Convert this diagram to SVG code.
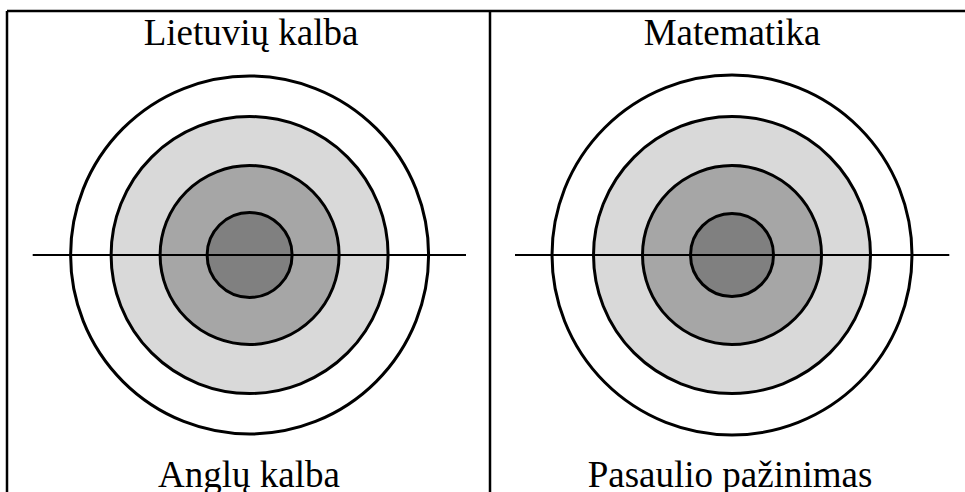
<svg xmlns="http://www.w3.org/2000/svg" width="965" height="492" viewBox="0 0 965 492">
<style>
.bg{fill:#ffffff}
.border{stroke:#000;stroke-width:2.5;fill:none}
.ring{stroke:#000;stroke-width:3}
.r1{fill:#ffffff}
.r2{fill:#d9d9d9}
.r3{fill:#a6a6a6}
.r4{fill:#808080}
.axis{stroke:#000;stroke-width:2}
.lbl{font-family:"Liberation Serif","Times New Roman",serif;font-size:37px;fill:#000;text-anchor:middle}
</style>
<rect class="bg" x="0" y="0" width="965" height="492"/>
<g id="table">
<line class="border" x1="7" y1="11" x2="965" y2="11"/>
<line class="border" x1="7" y1="11" x2="7" y2="492"/>
<line class="border" x1="490" y1="11" x2="490" y2="492"/>
</g>
<g id="target-left">
<circle class="ring r1" cx="249.6" cy="255" r="179"/>
<circle class="ring r2" cx="249.6" cy="255" r="138.5"/>
<circle class="ring r3" cx="249.6" cy="255" r="89.5"/>
<circle class="ring r4" cx="249.6" cy="255" r="42.5"/>
</g>
<g id="target-right">
<circle class="ring r1" cx="732" cy="255" r="180"/>
<circle class="ring r2" cx="732" cy="255" r="138.5"/>
<circle class="ring r3" cx="732" cy="255" r="89.5"/>
<circle class="ring r4" cx="732" cy="255" r="41.5"/>
</g>
<g id="connectors">
<line class="axis" x1="32.7" y1="255" x2="466" y2="255"/>
<line class="axis" x1="515" y1="255" x2="949.3" y2="255"/>
</g>
<g id="label-lietuviu"><text class="lbl" x="251" y="45">Lietuvių kalba</text></g>
<g id="label-matematika"><text class="lbl" x="732" y="45">Matematika</text></g>
<g id="label-anglu"><text class="lbl" x="249" y="487">Anglų kalba</text></g>
<g id="label-pasaulio"><text class="lbl" x="730" y="487">Pasaulio pažinimas</text></g>
</svg>
